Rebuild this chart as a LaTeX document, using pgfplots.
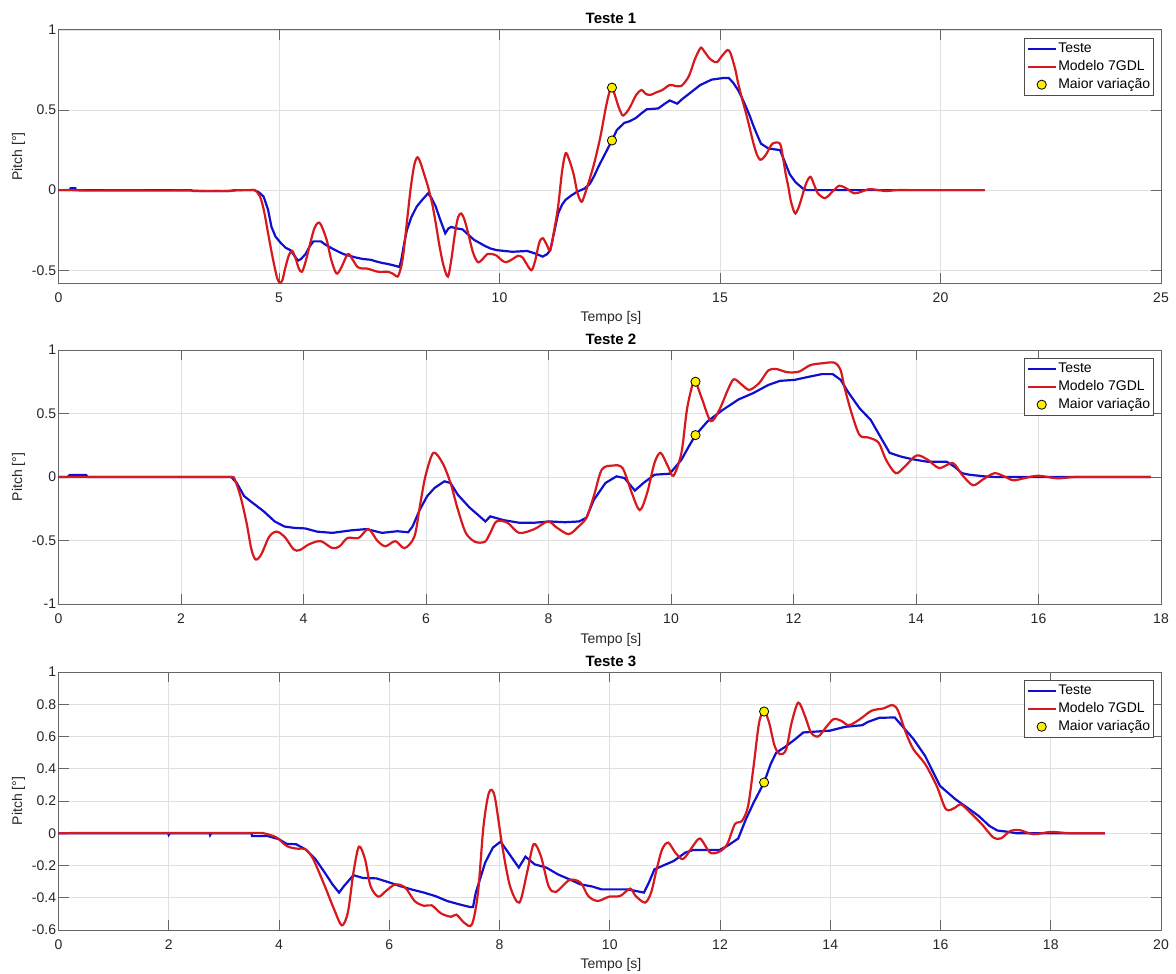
\documentclass[border=0pt]{standalone}
\usepackage{fontspec}
\setmainfont{Liberation Sans}
\usepackage{pgfplots}
\pgfplotsset{compat=1.18}

\definecolor{TBlue}{RGB}{15,15,205}
\definecolor{MRed}{RGB}{215,25,30}
\definecolor{MYel}{RGB}{250,240,0}

\newcommand{\tickfont}{\fontsize{7}{8}\selectfont}

\pgfplotsset{
  mstyle/.style={
    scale only axis, anchor=north west,
    width=551.25pt, xmin=0,
    axis line style={draw=black!60, line width=0.5pt},
    tick style={draw=black!60, line width=0.5pt},
    major tick length=5pt, tick align=inside,
    xtick pos=both, ytick pos=both,
    grid=major,
    major grid style={draw=black!12, line width=0.4pt},
    ticklabel style={font=\tickfont, text=black!85},
    xticklabel style={anchor=north, inner ysep=0pt, yshift=-4.75pt},
    yticklabel style={anchor=east, inner xsep=0pt, xshift=-1pt},
    /pgf/number format/assume math mode=true,
    legend cell align=left,
    legend style={at={(rel axis cs:1,1)}, anchor=north east,
      xshift=-3.5pt, yshift=-4pt, draw=black!70, line width=0.4pt,
      fill=white, font=\tickfont, inner xsep=1pt, inner ysep=1pt,
      row sep=0.7pt,
      nodes={inner sep=0.75pt, text height=5.2pt, text depth=1.6pt}},
    legend image code/.code={\draw[mark repeat=2,mark phase=2,#1]
      plot coordinates {(0pt,0pt) (7pt,0pt) (14pt,0pt)};},
  },
  teste/.style={TBlue, line width=1.1pt},
  modelo/.style={MRed, line width=1.1pt, smooth, tension=0.5},
  maior/.style={only marks, mark=*, mark size=2.3pt,
    mark options={fill=MYel, draw=black, line width=0.4pt}},
}

\begin{document}
\begin{tikzpicture}
\useasboundingbox (0,0) rectangle (588pt,-486.5pt);

% ---------------- Teste 1 ----------------
\begin{axis}[mstyle, at={(29.25pt,-15pt)}, height=126.5pt,
  xmax=25, ymin=-0.58, ymax=1,
  xtick={0,5,10,15,20,25},
  ytick={-0.5,0,0.5,1}, yticklabels={-0.5,0,0.5,1}]
\addplot[teste] coordinates {
(0,0) (0.25,0) (0.28,0.012) (0.38,0.012) (0.4,0) (3.0,0) (3.05,-0.005)
(3.9,-0.005) (4.0,0) (4.44,0) (4.55,-0.015) (4.65,-0.04) (4.75,-0.12)
(4.83,-0.23) (4.92,-0.29) (5.04,-0.33) (5.15,-0.36) (5.26,-0.375)
(5.35,-0.41) (5.43,-0.44) (5.5,-0.43) (5.6,-0.40) (5.7,-0.35) (5.78,-0.32)
(5.95,-0.32) (6.05,-0.34) (6.21,-0.365) (6.35,-0.385) (6.47,-0.40)
(6.73,-0.42) (6.9,-0.43) (7.08,-0.435) (7.2,-0.445) (7.34,-0.455)
(7.45,-0.46) (7.6,-0.47) (7.73,-0.48) (7.77,-0.44) (7.84,-0.33) (7.9,-0.25)
(8.0,-0.17) (8.12,-0.104) (8.25,-0.06) (8.38,-0.02) (8.46,-0.05)
(8.55,-0.10) (8.65,-0.18) (8.77,-0.27) (8.84,-0.24) (8.9,-0.23)
(9.05,-0.24) (9.16,-0.245) (9.3,-0.28) (9.42,-0.31) (9.55,-0.33)
(9.68,-0.35) (9.8,-0.365) (9.94,-0.375) (10.29,-0.385) (10.63,-0.38)
(10.8,-0.395) (10.98,-0.415) (11.08,-0.40) (11.15,-0.375) (11.25,-0.25)
(11.33,-0.146) (11.42,-0.09) (11.5,-0.06) (11.62,-0.035) (11.76,-0.01)
(11.93,0.01) (12.05,0.04) (12.15,0.09) (12.25,0.15) (12.4,0.23)
(12.55,0.31) (12.66,0.375) (12.83,0.42) (12.95,0.43) (13.09,0.45)
(13.22,0.48) (13.34,0.505) (13.6,0.51) (13.75,0.54) (13.86,0.56)
(14.03,0.54) (14.15,0.57) (14.29,0.60) (14.55,0.656) (14.81,0.69)
(15.07,0.70) (15.2,0.70) (15.3,0.67) (15.41,0.625) (15.5,0.575)
(15.59,0.52) (15.68,0.46) (15.76,0.40) (15.85,0.34) (15.93,0.29)
(16.1,0.26) (16.36,0.25) (16.45,0.19) (16.58,0.10) (16.71,0.05)
(16.88,0.01) (16.97,0) (21.0,0)
};
\addlegendentry{Teste}
\addplot[modelo] coordinates {
(0,0) (0.3,0) (0.6,-0.003) (1.0,-0.003) (1.5,-0.002) (2.0,-0.003)
(2.5,-0.003) (3.0,-0.003) (3.3,-0.006) (3.6,-0.006) (3.8,-0.006)
(4.0,-0.002) (4.2,0) (4.35,0) (4.45,0) (4.57,-0.04) (4.66,-0.13)
(4.74,-0.25) (4.82,-0.37)
(4.9,-0.48) (4.96,-0.55) (5.02,-0.58) (5.08,-0.56) (5.13,-0.5) (5.22,-0.41)
(5.3,-0.38) (5.38,-0.43) (5.45,-0.49) (5.52,-0.51) (5.6,-0.45) (5.71,-0.33)
(5.8,-0.24) (5.88,-0.205) (5.95,-0.215) (6.08,-0.31) (6.18,-0.43)
(6.3,-0.52) (6.4,-0.49) (6.56,-0.40) (6.66,-0.43) (6.78,-0.48) (6.9,-0.49)
(7.0,-0.49) (7.25,-0.51) (7.47,-0.51) (7.6,-0.525) (7.69,-0.54)
(7.76,-0.49) (7.82,-0.40) (7.9,-0.2) (7.99,0.02) (8.07,0.16) (8.14,0.205)
(8.21,0.17) (8.29,0.10) (8.38,0.02) (8.47,-0.08) (8.55,-0.2) (8.64,-0.35)
(8.73,-0.47) (8.83,-0.54) (8.91,-0.43) (8.99,-0.27) (9.06,-0.17)
(9.13,-0.146) (9.2,-0.18) (9.29,-0.27) (9.4,-0.39) (9.51,-0.45)
(9.62,-0.43) (9.72,-0.40) (9.84,-0.40) (9.94,-0.41) (10.06,-0.44)
(10.16,-0.45) (10.3,-0.43) (10.42,-0.41) (10.52,-0.42) (10.59,-0.45)
(10.72,-0.50) (10.8,-0.45) (10.9,-0.33) (10.98,-0.30) (11.07,-0.34)
(11.15,-0.375) (11.24,-0.25) (11.33,-0.10) (11.42,0.12) (11.5,0.23)
(11.58,0.19) (11.68,0.10) (11.77,-0.02) (11.86,-0.073) (11.93,-0.03)
(12.06,0.083) (12.15,0.17) (12.22,0.25) (12.3,0.35) (12.4,0.5) (12.48,0.6)
(12.55,0.64) (12.62,0.59) (12.7,0.52) (12.78,0.47) (12.83,0.47)
(12.92,0.5) (13.0,0.54) (13.1,0.595) (13.22,0.625) (13.32,0.6)
(13.43,0.595) (13.55,0.61) (13.69,0.625) (13.86,0.656) (14.0,0.65)
(14.12,0.65) (14.22,0.68) (14.29,0.71) (14.36,0.76) (14.42,0.81)
(14.5,0.86) (14.57,0.89) (14.66,0.86) (14.77,0.82) (14.88,0.80)
(14.94,0.80) (15.05,0.84) (15.17,0.875) (15.23,0.86) (15.28,0.82)
(15.35,0.75) (15.41,0.67) (15.5,0.57) (15.59,0.48) (15.68,0.38)
(15.76,0.29) (15.84,0.22) (15.91,0.19) (15.98,0.2) (16.06,0.23)
(16.19,0.29) (16.36,0.29) (16.43,0.2) (16.49,0.10) (16.55,0.02)
(16.6,-0.06) (16.66,-0.12) (16.71,-0.146) (16.78,-0.11) (16.84,-0.06)
(16.95,0.04) (17.05,0.083) (17.14,0.03) (17.22,-0.02) (17.38,-0.05)
(17.55,-0.01) (17.7,0.027) (17.87,0.01) (18.04,-0.02) (18.2,-0.01)
(18.39,0.006) (18.6,0.0) (18.78,-0.006) (19.0,0) (19.4,0) (19.9,0)
(20.4,0) (21.0,0)
};
\addlegendentry{Modelo 7GDL}
\addplot[maior] coordinates {(12.55,0.64) (12.55,0.31)};
\addlegendentry{Maior variação}
\end{axis}

% ---------------- Teste 2 ----------------
\begin{axis}[mstyle, at={(29.25pt,-175pt)}, height=127pt,
  xmax=18, ymin=-1, ymax=1,
  xtick={0,2,...,18},
  ytick={-1,-0.5,0,0.5,1}, yticklabels={-1,-0.5,0,0.5,1}]
\addplot[teste] coordinates {
(0,0) (0.15,0) (0.18,0.015) (0.45,0.015) (0.48,0) (2.82,0) (2.91,-0.047)
(3.03,-0.15) (3.16,-0.20) (3.35,-0.27) (3.53,-0.35) (3.69,-0.39)
(3.84,-0.40) (4.03,-0.405) (4.22,-0.43) (4.47,-0.44) (4.78,-0.42)
(5.03,-0.41) (5.28,-0.44) (5.53,-0.427) (5.71,-0.435) (5.78,-0.39)
(5.9,-0.256) (6.02,-0.15) (6.14,-0.086) (6.3,-0.034) (6.4,-0.047)
(6.52,-0.14) (6.71,-0.24) (6.9,-0.32) (6.97,-0.35) (7.05,-0.31)
(7.27,-0.34) (7.52,-0.36) (7.77,-0.36) (8.02,-0.35) (8.27,-0.356)
(8.5,-0.35) (8.62,-0.32) (8.74,-0.18) (8.93,-0.047) (9.11,0.005)
(9.24,-0.008) (9.41,-0.107) (9.55,-0.047) (9.73,0.018) (9.98,0.026)
(10.17,0.136) (10.29,0.24) (10.4,0.33) (10.6,0.44) (10.85,0.53)
(11.1,0.61) (11.34,0.66) (11.59,0.725) (11.78,0.757) (12.02,0.765)
(12.21,0.785) (12.46,0.81) (12.64,0.81) (12.77,0.765) (12.89,0.67)
(13.08,0.54) (13.26,0.45) (13.45,0.29) (13.57,0.19) (13.76,0.16)
(13.94,0.14) (14.19,0.12) (14.5,0.12) (14.63,0.08) (14.75,0.03)
(14.87,0.018) (15.12,0.005) (15.3,0) (17.83,0)
};
\addlegendentry{Teste}
\addplot[modelo] coordinates {
(0,0) (0.5,0) (1.0,0) (1.5,0) (2.0,0) (2.4,0) (2.65,0) (2.8,0) (2.85,0)
(2.88,-0.02) (2.97,-0.15) (3.07,-0.36) (3.15,-0.57)
(3.22,-0.65) (3.31,-0.61) (3.44,-0.47) (3.56,-0.43) (3.69,-0.47)
(3.84,-0.57) (3.94,-0.575) (4.09,-0.53) (4.28,-0.505) (4.47,-0.56)
(4.59,-0.545) (4.72,-0.48) (4.9,-0.48) (5.06,-0.41) (5.21,-0.505)
(5.34,-0.545) (5.5,-0.505) (5.65,-0.56) (5.81,-0.47) (5.9,-0.23)
(5.99,0.005) (6.12,0.19) (6.27,0.11) (6.4,-0.047) (6.52,-0.256)
(6.65,-0.44) (6.8,-0.51) (6.96,-0.51) (7.05,-0.44) (7.15,-0.35)
(7.33,-0.36) (7.52,-0.44) (7.77,-0.41) (7.99,-0.35) (8.14,-0.40)
(8.33,-0.45) (8.49,-0.39) (8.62,-0.32) (8.74,-0.15) (8.87,0.058)
(9.05,0.09) (9.21,0.07) (9.36,-0.126) (9.49,-0.26) (9.61,-0.126)
(9.73,0.11) (9.83,0.19) (9.95,0.084) (10.04,0.01) (10.17,0.19)
(10.26,0.53) (10.35,0.725) (10.4,0.75) (10.51,0.61) (10.65,0.44)
(10.79,0.53) (10.94,0.70) (11.03,0.77) (11.16,0.725) (11.28,0.686)
(11.44,0.74) (11.59,0.84) (11.72,0.85) (11.9,0.825) (12.09,0.83)
(12.27,0.88) (12.46,0.895) (12.67,0.90) (12.77,0.84) (12.83,0.71)
(12.95,0.50) (13.08,0.33) (13.23,0.31) (13.39,0.27) (13.51,0.136)
(13.67,0.03) (13.82,0.084) (14.01,0.17) (14.19,0.136) (14.38,0.07)
(14.6,0.11) (14.75,0.018) (14.93,-0.065) (15.09,-0.02) (15.28,0.03)
(15.44,0.005) (15.59,-0.026) (15.78,-0.008) (16.0,0.01) (16.3,-0.01)
(16.6,0) (17.0,0) (17.4,0) (17.83,0)
};
\addlegendentry{Modelo 7GDL}
\addplot[maior] coordinates {(10.4,0.75) (10.4,0.33)};
\addlegendentry{Maior variação}
\end{axis}

% ---------------- Teste 3 ----------------
\begin{axis}[mstyle, at={(29.25pt,-336pt)}, height=129pt,
  xmax=20, ymin=-0.6, ymax=1,
  xtick={0,2,...,20},
  ytick={-0.6,-0.4,-0.2,0,0.2,0.4,0.6,0.8,1},
  yticklabels={-0.6,-0.4,-0.2,0,0.2,0.4,0.6,0.8,1}]
\addplot[teste] coordinates {
(0,0) (1.99,0) (2.0,-0.01) (2.02,0) (2.74,0) (2.75,-0.012) (2.77,0)
(3.5,0) (3.51,-0.017) (3.79,-0.017) (4.0,-0.037) (4.14,-0.066)
(4.31,-0.068) (4.48,-0.10) (4.66,-0.16) (4.83,-0.244) (4.97,-0.317)
(5.09,-0.368) (5.18,-0.327) (5.35,-0.26) (5.52,-0.277) (5.77,-0.28)
(6.01,-0.306) (6.22,-0.33) (6.42,-0.35) (6.63,-0.368) (6.84,-0.39)
(7.05,-0.42) (7.26,-0.44) (7.46,-0.457) (7.52,-0.457) (7.57,-0.368)
(7.74,-0.182) (7.88,-0.089) (8.02,-0.052) (8.16,-0.12) (8.35,-0.213)
(8.47,-0.145) (8.64,-0.193) (8.85,-0.213) (9.06,-0.255) (9.27,-0.286)
(9.47,-0.317) (9.68,-0.33) (9.85,-0.348) (10.33,-0.348) (10.62,-0.368)
(10.71,-0.306) (10.81,-0.224) (10.95,-0.203) (11.16,-0.172) (11.37,-0.12)
(11.51,-0.104) (11.99,-0.104) (12.13,-0.079) (12.33,-0.033) (12.47,0.087)
(12.61,0.19) (12.8,0.315) (12.92,0.43) (13.02,0.50) (13.2,0.54)
(13.37,0.585) (13.51,0.625) (13.72,0.63) (13.99,0.636) (14.27,0.66)
(14.58,0.67) (14.68,0.69) (14.89,0.716) (15.17,0.718) (15.3,0.667)
(15.51,0.584) (15.72,0.48) (15.99,0.294) (16.27,0.211) (16.48,0.16)
(16.69,0.108) (16.89,0.045) (17.03,0.017) (17.2,0.01) (17.38,0)
(18.98,0)
};
\addlegendentry{Teste}
\addplot[modelo] coordinates {
(0,0) (0.5,0.002) (1.0,0.002) (1.5,0.002) (2.0,0.002) (2.5,0.002)
(3.0,0.002) (3.3,0.002) (3.5,0.002) (3.7,0.002) (3.79,-0.006)
(3.96,-0.027) (4.14,-0.079) (4.31,-0.095)
(4.48,-0.10) (4.62,-0.16) (4.83,-0.327) (5.0,-0.472) (5.14,-0.571)
(5.25,-0.49) (5.35,-0.244) (5.45,-0.083) (5.56,-0.16) (5.66,-0.327)
(5.8,-0.393) (5.94,-0.358) (6.11,-0.317) (6.29,-0.337) (6.46,-0.42)
(6.63,-0.45) (6.77,-0.447) (6.94,-0.497) (7.12,-0.518) (7.22,-0.505)
(7.36,-0.555) (7.5,-0.565) (7.61,-0.368) (7.71,0.045) (7.81,0.253)
(7.91,0.232) (8.05,-0.079) (8.19,-0.327) (8.36,-0.43) (8.5,-0.244)
(8.62,-0.068) (8.75,-0.141) (8.89,-0.327) (9.02,-0.364) (9.27,-0.29)
(9.47,-0.306) (9.61,-0.389) (9.78,-0.42) (9.99,-0.393) (10.19,-0.389)
(10.37,-0.343) (10.47,-0.389) (10.64,-0.43) (10.75,-0.368) (10.85,-0.224)
(10.95,-0.10) (11.06,-0.058) (11.19,-0.12) (11.33,-0.16) (11.51,-0.079)
(11.64,-0.033) (11.82,-0.12) (11.99,-0.114) (12.13,-0.068) (12.27,0.056)
(12.4,0.077) (12.51,0.17) (12.61,0.418) (12.71,0.687) (12.8,0.755)
(12.89,0.687) (12.99,0.542) (13.09,0.49) (13.2,0.52) (13.3,0.687)
(13.42,0.81) (13.54,0.728) (13.65,0.625) (13.78,0.6) (13.92,0.656)
(14.06,0.708) (14.2,0.697) (14.34,0.67) (14.54,0.708) (14.75,0.76)
(14.96,0.774) (15.13,0.795) (15.23,0.76) (15.37,0.625) (15.51,0.52)
(15.72,0.43) (15.93,0.294) (16.1,0.149) (16.27,0.16) (16.37,0.18)
(16.54,0.128) (16.75,0.056) (16.96,-0.027) (17.1,-0.031) (17.27,0.015)
(17.44,0.019) (17.69,-0.006) (18.0,0.008) (18.34,0) (18.65,0) (18.98,0)
};
\addlegendentry{Modelo 7GDL}
\addplot[maior] coordinates {(12.8,0.755) (12.8,0.315)};
\addlegendentry{Maior variação}
\end{axis}

% titles, axis labels
\tikzset{ttl/.style={font=\bfseries\fontsize{7.5}{9}\selectfont, anchor=base},
  lbl/.style={font=\tickfont, text=black!85, anchor=base}}
\node[ttl] at (305.5pt,-11.65pt) {Teste 1};
\node[ttl] at (305.5pt,-172pt) {Teste 2};
\node[ttl] at (305.5pt,-333.3pt) {Teste 3};
\node[lbl] at (305.5pt,-160.8pt) {Tempo [s]};
\node[lbl] at (305.5pt,-321.7pt) {Tempo [s]};
\node[lbl] at (305.5pt,-484.2pt) {Tempo [s]};
\node[lbl, rotate=90] at (11pt,-78.25pt) {Pitch [°]};
\node[lbl, rotate=90] at (11pt,-238.5pt) {Pitch [°]};
\node[lbl, rotate=90] at (11pt,-400.5pt) {Pitch [°]};
\end{tikzpicture}
\end{document}
